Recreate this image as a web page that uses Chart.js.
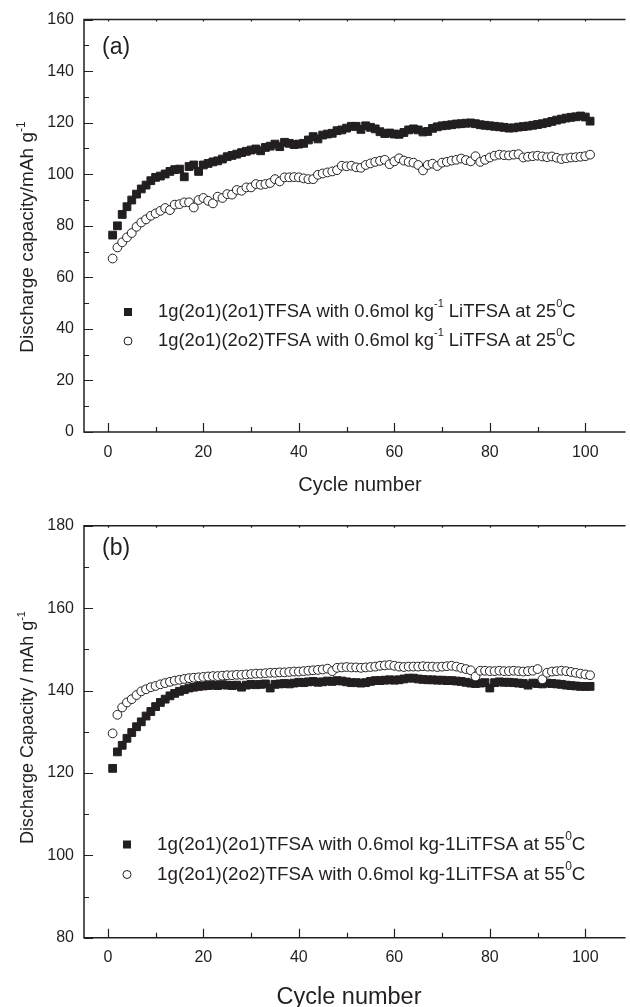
<!DOCTYPE html>
<html>
<head>
<meta charset="utf-8">
<script src="https://cdn.jsdelivr.net/npm/chart.js@4.4.0/dist/chart.umd.min.js"></script>
<style>
html, body { margin: 0; padding: 0; background: #fff; overflow: hidden; }
#wrapA { position: absolute; left: 0; top: 0; width: 630px; height: 500px; }
#wrapB { position: absolute; left: 0; top: 500px; width: 630px; height: 507px; }
</style>
</head>
<body>
<div id="wrapA"><canvas id="chartA"></canvas></div>
<div id="wrapB"><canvas id="chartB"></canvas></div>
<script>
// cycle numbers 1..101
const cycles = Array.from({ length: 101 }, (_, i) => i + 1);

const xTicks = [0, 20, 40, 60, 80, 100];
const xMinorTicks = [10, 30, 50, 70, 90];
const yTicksA = [0, 20, 40, 60, 80, 100, 120, 140, 160];
const yTicksB = [80, 100, 120, 140, 160, 180];

// (a) 25 C
const topSquares = [
    76.4, 80.0, 84.4, 87.4, 90.0, 92.3, 94.3, 95.8, 97.5, 98.8,
    99.3, 100.1, 101.1, 101.8, 102.0, 99.0, 103.0, 103.6, 101.1, 103.6,
    104.2, 104.8, 105.2, 105.9, 106.8, 107.3, 107.8, 108.4, 108.9, 109.4,
    109.8, 109.1, 110.4, 110.9, 111.7, 110.7, 112.4, 112.0, 111.5, 111.7,
    112.0, 113.3, 114.6, 113.7, 115.2, 115.6, 115.9, 116.9, 117.2, 117.9,
    118.6, 118.6, 117.4, 118.8, 118.2, 117.6, 116.5, 115.8, 116.0, 115.6,
    115.5, 116.2, 117.2, 117.6, 117.2, 116.4, 116.6, 117.8, 118.4, 118.8,
    119.0, 119.2, 119.5, 119.6, 119.8, 119.9, 119.6, 119.2, 119.0, 118.8,
    118.6, 118.4, 118.2, 117.9, 118.0, 118.3, 118.5, 118.7, 119.0, 119.3,
    119.6, 120.0, 120.5, 121.0, 121.4, 121.8, 122.1, 122.3, 122.6, 122.2,
    120.6
];
const topCircles = [
    67.3, 71.6, 73.6, 75.5, 77.2, 79.6, 81.3, 82.5, 83.9, 84.8,
    85.8, 86.9, 86.1, 88.2, 88.4, 89.1, 89.1, 87.1, 90.0, 90.8,
    89.7, 88.7, 91.3, 90.8, 92.3, 92.1, 93.9, 93.6, 94.9, 94.9,
    96.2, 95.9, 96.2, 96.6, 98.1, 97.2, 98.8, 98.8, 98.9, 98.8,
    98.4, 98.1, 98.1, 99.8, 100.3, 100.7, 101.1, 101.6, 103.3, 103.1,
    103.3, 102.7, 102.5, 103.6, 104.2, 104.8, 105.2, 105.6, 103.9, 105.0,
    106.2, 105.3, 104.8, 104.5, 103.6, 101.5, 103.6, 104.1, 103.2, 104.5,
    104.8, 105.3, 105.6, 106.1, 105.5, 105.0, 107.0, 104.8, 105.6, 106.5,
    107.2, 107.6, 107.4, 107.3, 107.6, 107.8, 106.5, 106.8, 107.0, 107.2,
    106.9, 106.6, 106.9, 106.4, 105.9, 106.2, 106.5, 106.6, 106.8, 107.0,
    107.6
];

// (b) 55 C
const bottomSquares = [
    121.1, 125.1, 126.7, 128.4, 129.8, 131.2, 132.4, 133.8, 134.9, 136.1,
    137.1, 137.9, 138.7, 139.3, 139.8, 140.2, 140.6, 140.8, 141.0, 141.1,
    141.2, 141.3, 141.2, 141.4, 141.3, 141.2, 141.3, 140.8, 141.3, 141.5,
    141.4, 141.5, 141.6, 140.6, 141.5, 141.6, 141.7, 141.6, 141.8, 142.0,
    141.9, 142.1, 142.2, 142.0, 142.1, 142.3, 142.2, 142.4, 142.3, 142.1,
    141.9, 141.9, 141.8, 141.9, 142.2, 142.4, 142.4, 142.5, 142.6, 142.5,
    142.6, 142.8, 143.0, 143.0, 142.8, 142.7, 142.6, 142.6, 142.5, 142.5,
    142.4, 142.4, 142.3, 142.2, 142.0, 141.8, 141.7, 141.8, 141.9, 140.6,
    141.9, 142.1, 142.0, 142.0, 141.9, 141.8, 141.7, 141.3, 141.8, 141.7,
    141.6, 141.8, 141.7, 141.6, 141.5, 141.3, 141.2, 141.1, 141.0, 141.0,
    141.0
];
const bottomCircles = [
    129.6, 134.1, 135.9, 137.1, 137.9, 138.9, 139.8, 140.3, 140.8, 141.1,
    141.5, 141.8, 142.1, 142.4, 142.6, 142.8, 143.0, 143.1, 143.2, 143.3,
    143.4, 143.5, 143.5, 143.6, 143.7, 143.7, 143.8, 143.8, 143.9, 144.0,
    144.1, 144.1, 144.2, 144.3, 144.3, 144.4, 144.4, 144.5, 144.6, 144.6,
    144.7, 144.8, 144.9, 145.0, 145.1, 145.3, 144.7, 145.5, 145.6, 145.7,
    145.6, 145.6, 145.5, 145.6, 145.7, 145.8, 146.0, 146.1, 146.2, 146.0,
    145.8, 145.7, 145.8, 145.8, 145.8, 145.9, 145.8, 145.8, 145.7, 145.8,
    145.9, 146.0, 145.8, 145.5, 145.2, 144.9, 143.4, 144.8, 144.8, 144.7,
    144.7, 144.8, 144.7, 144.7, 144.8, 144.7, 144.6, 144.7, 144.8, 145.2,
    142.7, 144.3, 144.6, 144.7, 144.8, 144.7, 144.5, 144.3, 144.1, 143.9,
    143.7
];

const legendA = [
    [{ t: '1g(2o1)(2o1)TFSA with 0.6mol kg' }, { t: '-1', sup: true }, { t: ' LiTFSA at 25' }, { t: '0', sup: true }, { t: 'C' }],
    [{ t: '1g(2o1)(2o2)TFSA with 0.6mol kg' }, { t: '-1', sup: true }, { t: ' LiTFSA at 25' }, { t: '0', sup: true }, { t: 'C' }]
];
const legendB = [
    [{ t: '1g(2o1)(2o1)TFSA with 0.6mol kg-1LiTFSA at 55' }, { t: '0', sup: true }, { t: 'C' }],
    [{ t: '1g(2o1)(2o2)TFSA with 0.6mol kg-1LiTFSA at 55' }, { t: '0', sup: true }, { t: 'C' }]
];

const ink = '#231f20';
const family = '"Liberation Sans", Arial, Helvetica, sans-serif';

function richWidth(ctx, parts, size) {
    let w = 0;
    parts.forEach(p => {
        ctx.font = (p.sup ? Math.round(size * 0.62) : size) + 'px ' + family;
        w += ctx.measureText(p.t).width;
    });
    return w;
}

function drawRich(ctx, parts, x, y, size) {
    parts.forEach(p => {
        const s = p.sup ? Math.round(size * 0.62) : size;
        ctx.font = s + 'px ' + family;
        ctx.fillText(p.t, x, p.sup ? y - size * 0.42 : y);
        x += ctx.measureText(p.t).width;
    });
}

const panelPlugin = {
    id: 'panel',
    afterDraw(chart, args, o) {
        const { ctx, chartArea: a, scales: { x, y } } = chart;
        ctx.save();
        ctx.strokeStyle = ink;
        ctx.fillStyle = ink;

        // frame (right edge runs off the picture)
        ctx.lineWidth = 1.5;
        ctx.beginPath();
        ctx.moveTo(a.right + 2, a.top);
        ctx.lineTo(a.left, a.top);
        ctx.lineTo(a.left, a.bottom);
        ctx.lineTo(a.right + 2, a.bottom);
        ctx.stroke();

        // inward tick marks
        ctx.lineWidth = 1.2;
        ctx.beginPath();
        xTicks.concat(xMinorTicks).forEach(v => {
            const px = Math.round(x.getPixelForValue(v)) + 0.5;
            const len = xTicks.includes(v) ? 9 : 5;
            ctx.moveTo(px, a.bottom);
            ctx.lineTo(px, a.bottom - len);
            ctx.moveTo(px, a.top);
            ctx.lineTo(px, a.top + 2);
        });
        o.yTicks.forEach((v, i) => {
            const py = Math.round(y.getPixelForValue(v)) + 0.5;
            ctx.moveTo(a.left, py);
            ctx.lineTo(a.left + 9, py);
            if (i < o.yTicks.length - 1) {
                const pm = Math.round(y.getPixelForValue(v + 10)) + 0.5;
                ctx.moveTo(a.left, pm);
                ctx.lineTo(a.left + 5, pm);
            }
        });
        ctx.stroke();

        // panel label
        ctx.textBaseline = 'middle';
        ctx.textAlign = 'left';
        ctx.font = '23px ' + family;
        ctx.fillText(o.label, 102, o.labelY);

        // legend
        o.legend.forEach((row, i) => {
            const ry = o.legendY[i];
            if (i === 0) {
                ctx.fillRect(o.markX - 4, ry - 4, 8, 8);
            } else {
                ctx.beginPath();
                ctx.lineWidth = 1;
                ctx.arc(o.markX, ry, 4, 0, Math.PI * 2);
                ctx.stroke();
            }
            ctx.textBaseline = 'middle';
            drawRich(ctx, row, o.textX, ry, o.legendSize);
        });

        // x title
        ctx.textBaseline = 'alphabetic';
        ctx.textAlign = 'center';
        ctx.font = o.xTitleSize + 'px ' + family;
        ctx.fillText('Cycle number', o.xTitleX, o.xTitleY);

        // y title
        ctx.textAlign = 'left';
        ctx.translate(33, o.yTitleY);
        ctx.rotate(-Math.PI / 2);
        const w = richWidth(ctx, o.yTitle, o.yTitleSize);
        drawRich(ctx, o.yTitle, -w / 2, 0, o.yTitleSize);
        ctx.restore();
    }
};

function makeChart(id, cfg) {
    return new Chart(document.getElementById(id), {
        type: 'scatter',
        data: {
            datasets: [{
                data: cycles.map((c, i) => ({ x: c, y: cfg.squares[i] })),
                pointStyle: 'rect',
                pointRadius: 5.5,
                pointBackgroundColor: ink,
                pointBorderColor: ink,
                pointBorderWidth: 1,
                order: 1
            }, {
                data: cycles.map((c, i) => ({ x: c, y: cfg.circles[i] })),
                pointStyle: 'circle',
                pointRadius: 4.4,
                pointBackgroundColor: '#fff',
                pointBorderColor: ink,
                pointBorderWidth: 1,
                order: 0
            }]
        },
        options: {
            responsive: true,
            maintainAspectRatio: false,
            animation: false,
            layout: { padding: { top: cfg.top, right: 0, bottom: 0, left: 0 } },
            plugins: {
                legend: { display: false },
                tooltip: { enabled: false },
                panel: cfg.panel
            },
            scales: {
                x: {
                    type: 'linear',
                    min: -5,
                    max: 108,
                    grid: { display: false, drawTicks: false },
                    border: { display: false },
                    ticks: { color: ink, font: { family: family, size: 16 }, padding: cfg.xPad, autoSkip: false, maxRotation: 0 },
                    afterBuildTicks: s => { s.ticks = xTicks.map(v => ({ value: v })); },
                    afterFit: s => { s.height = cfg.xAxisH; }
                },
                y: {
                    min: cfg.yTicks[0],
                    max: cfg.yTicks[cfg.yTicks.length - 1],
                    grid: { display: false, drawTicks: false },
                    border: { display: false },
                    ticks: { color: ink, font: { family: family, size: 16 }, padding: 10, autoSkip: false },
                    afterBuildTicks: s => { s.ticks = cfg.yTicks.map(v => ({ value: v })); },
                    afterFit: s => { s.width = 84; }
                }
            }
        },
        plugins: [panelPlugin]
    });
}

makeChart('chartA', {
    squares: topSquares,
    circles: topCircles,
    yTicks: yTicksA,
    top: 19,
    xAxisH: 68,
    xPad: 11,
    panel: {
        yTicks: yTicksA,
        label: '(a)', labelY: 48,
        legend: legendA, legendY: [312, 341], markX: 128, textX: 158, legendSize: 18.4,
        xTitleX: 360, xTitleY: 491, xTitleSize: 20,
        yTitle: [{ t: 'Discharge capacity/mAh g' }, { t: '-1', sup: true }],
        yTitleY: 237, yTitleSize: 19
    }
});

makeChart('chartB', {
    squares: bottomSquares,
    circles: bottomCircles,
    yTicks: yTicksB,
    top: 25.7,
    xAxisH: 69.3,
    xPad: 10,
    panel: {
        yTicks: yTicksB,
        label: '(b)', labelY: 48.5,
        legend: legendB, legendY: [344.5, 374.5], markX: 127, textX: 157, legendSize: 18.8,
        xTitleX: 349, xTitleY: 504, xTitleSize: 23.5,
        yTitle: [{ t: 'Discharge Capacity / mAh g' }, { t: '-1', sup: true }],
        yTitleY: 227.5, yTitleSize: 18
    }
});
</script>
</body>
</html>
